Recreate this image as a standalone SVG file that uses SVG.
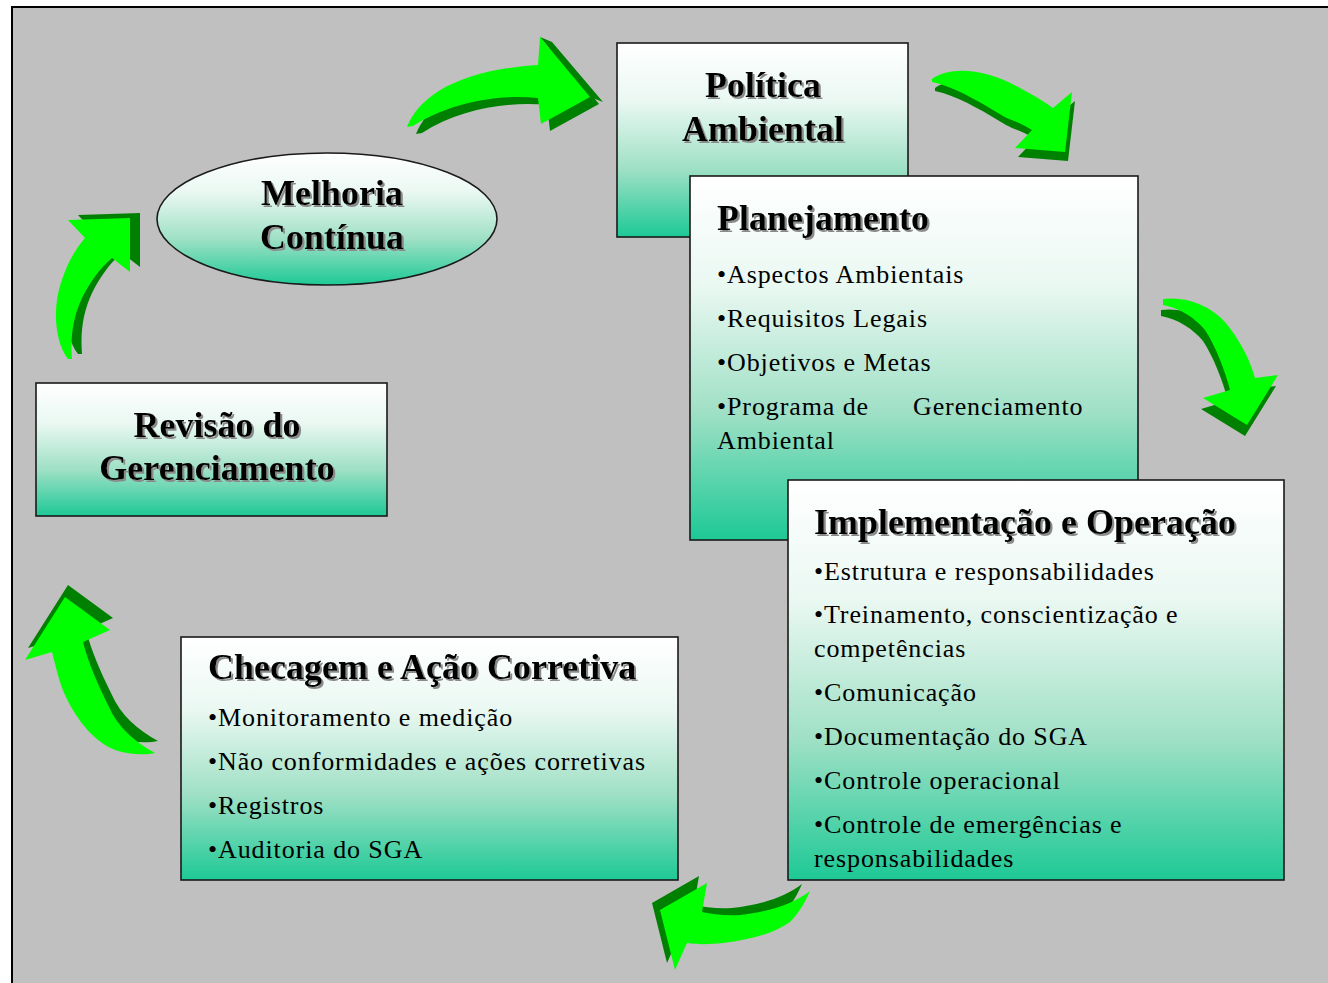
<svg xmlns="http://www.w3.org/2000/svg" width="1328" height="983" viewBox="0 0 1328 983">
<defs>
<linearGradient id="g" x1="0" y1="0" x2="0" y2="1">
<stop offset="0" stop-color="#FFFFFF"/>
<stop offset="0.3" stop-color="#EAF8F2"/>
<stop offset="0.65" stop-color="#9FE0C6"/>
<stop offset="1" stop-color="#1DC995"/>
</linearGradient>
<filter id="sh" x="-5%" y="-20%" width="110%" height="140%">
<feDropShadow dx="2" dy="2" stdDeviation="0.7" flood-color="#8A8A8A" flood-opacity="1"/>
</filter>
<style>
.box{fill:url(#g);stroke:#1A1A1A;stroke-width:1.6}
.t{font-family:"Liberation Serif","Times New Roman",serif;font-weight:bold;font-size:36px;fill:#000;filter:url(#sh)}
.b{font-family:"Liberation Serif","Times New Roman",serif;font-size:26px;letter-spacing:0.9px;fill:#000}
.dk{fill:#008000}
.lt{fill:#00FF00}
</style>
</defs>
<rect x="0" y="0" width="1328" height="983" fill="#FFFFFF"/>
<rect x="12" y="7" width="1330" height="990" fill="#C0C0C0" stroke="#000" stroke-width="2"/>

<g id="connectors">
<g id="arrow1">
<path class="dk" transform="translate(9,7)" d="M407,127 C420,95 460,70 538,65 L540,37 L590,97 L541,124 L538,98 C500,94 450,102 413,126 Z"/>
<path class="dk" d="M540,37 L552,42 L603,102 L590,97 Z"/>
<path class="lt" d="M407,127 C420,95 460,70 538,65 L540,37 L590,97 L541,124 L538,98 C500,94 450,102 413,126 Z"/>
</g>
<g id="arrow2">
<path class="dk" transform="translate(3,9)" d="M932,79 C950,66 985,68 1020,88 C1035,96 1045,102 1053,108 L1072,92 L1065,152 L1015,148 L1032,130 C1020,122 1010,120 1003,116 C985,105 960,90 940,84 L932,82 Z"/>
<path class="lt" d="M932,79 C950,66 985,68 1020,88 C1035,96 1045,102 1053,108 L1072,92 L1065,152 L1015,148 L1032,130 C1020,122 1010,120 1003,116 C985,105 960,90 940,84 L932,82 Z"/>
</g>
<g id="arrow3">
<path class="dk" transform="translate(-2,11)" d="M1163,299 C1185,296 1210,305 1225,322 C1240,340 1250,360 1255,378 L1278,375 L1247,425 L1203,398 L1230,390 C1225,370 1215,345 1205,330 C1195,318 1180,308 1163,305 Z"/>
<path class="lt" d="M1163,299 C1185,296 1210,305 1225,322 C1240,340 1250,360 1255,378 L1278,375 L1247,425 L1203,398 L1230,390 C1225,370 1215,345 1205,330 C1195,318 1180,308 1163,305 Z"/>
</g>
<g id="arrow4">
<path class="dk" transform="translate(-8,-7)" d="M810,891 C795,903 770,912 740,915 C725,916 712,914 702,912 L707,883 L660,910 L675,970 L687,943 C700,945 712,944 723,943 C750,940 775,933 790,922 C800,912 806,900 810,891 Z"/>
<path class="lt" d="M810,891 C795,903 770,912 740,915 C725,916 712,914 702,912 L707,883 L660,910 L675,970 L687,943 C700,945 712,944 723,943 C750,940 775,933 790,922 C800,912 806,900 810,891 Z"/>
</g>
<g id="arrow5">
<path class="dk" transform="translate(3,-12)" d="M155,753 C135,742 118,728 108,705 C98,685 88,662 83,642 L110,630 L65,597 L25,660 L52,652 C56,668 60,685 66,697 C78,722 95,742 115,750 C130,755 145,755 155,753 Z"/>
<path class="lt" d="M155,753 C135,742 118,728 108,705 C98,685 88,662 83,642 L110,630 L65,597 L25,660 L52,652 C56,668 60,685 66,697 C78,722 95,742 115,750 C130,755 145,755 155,753 Z"/>
</g>
<g id="arrow6">
<path class="dk" transform="translate(10,-5)" d="M68,359 C57,345 54,320 57,300 C60,280 70,255 85,238 L68,220 L130,218 L130,272 L112,258 C100,268 90,282 82,298 C74,315 70,335 72,359 Z"/>
<path class="lt" d="M68,359 C57,345 54,320 57,300 C60,280 70,255 85,238 L68,220 L130,218 L130,272 L112,258 C100,268 90,282 82,298 C74,315 70,335 72,359 Z"/>
</g>
</g>

<g id="politica">
<rect class="box" x="617" y="43" width="291" height="194"/>
<text class="t" x="763" y="97" text-anchor="middle">Política</text>
<text class="t" x="763" y="141" text-anchor="middle">Ambiental</text>
</g>

<g id="planejamento">
<rect class="box" x="690" y="176" width="448" height="364"/>
<text class="t" x="717" y="230">Planejamento</text>
<text class="b" x="717" y="283">•Aspectos Ambientais</text>
<text class="b" x="717" y="327">•Requisitos Legais</text>
<text class="b" x="717" y="371">•Objetivos e Metas</text>
<text class="b" x="717" y="415">•Programa de</text>
<text class="b" x="913" y="415">Gerenciamento</text>
<text class="b" x="717" y="449">Ambiental</text>
</g>

<g id="implementacao">
<rect class="box" x="788" y="480" width="496" height="400"/>
<text class="t" x="814" y="534">Implementação e Operação</text>
<text class="b" x="814" y="580">•Estrutura e responsabilidades</text>
<text class="b" x="814" y="623">•Treinamento, conscientização e</text>
<text class="b" x="814" y="657">competências</text>
<text class="b" x="814" y="701">•Comunicação</text>
<text class="b" x="814" y="745">•Documentação do SGA</text>
<text class="b" x="814" y="789">•Controle operacional</text>
<text class="b" x="814" y="833">•Controle de emergências e</text>
<text class="b" x="814" y="867">responsabilidades</text>
</g>

<g id="checagem">
<rect class="box" x="181" y="637" width="497" height="243"/>
<text class="t" x="208" y="679">Checagem e Ação Corretiva</text>
<text class="b" x="208" y="726">•Monitoramento e medição</text>
<text class="b" x="208" y="770">•Não conformidades e ações corretivas</text>
<text class="b" x="208" y="814">•Registros</text>
<text class="b" x="208" y="858">•Auditoria do SGA</text>
</g>

<g id="revisao">
<rect class="box" x="36" y="383" width="351" height="133"/>
<text class="t" x="217" y="437" text-anchor="middle">Revisão do</text>
<text class="t" x="217" y="480" text-anchor="middle">Gerenciamento</text>
</g>

<g id="melhoria">
<ellipse class="box" cx="327" cy="219" rx="170" ry="66"/>
<text class="t" x="332" y="205" text-anchor="middle">Melhoria</text>
<text class="t" x="332" y="249" text-anchor="middle">Contínua</text>
</g>
</svg>
